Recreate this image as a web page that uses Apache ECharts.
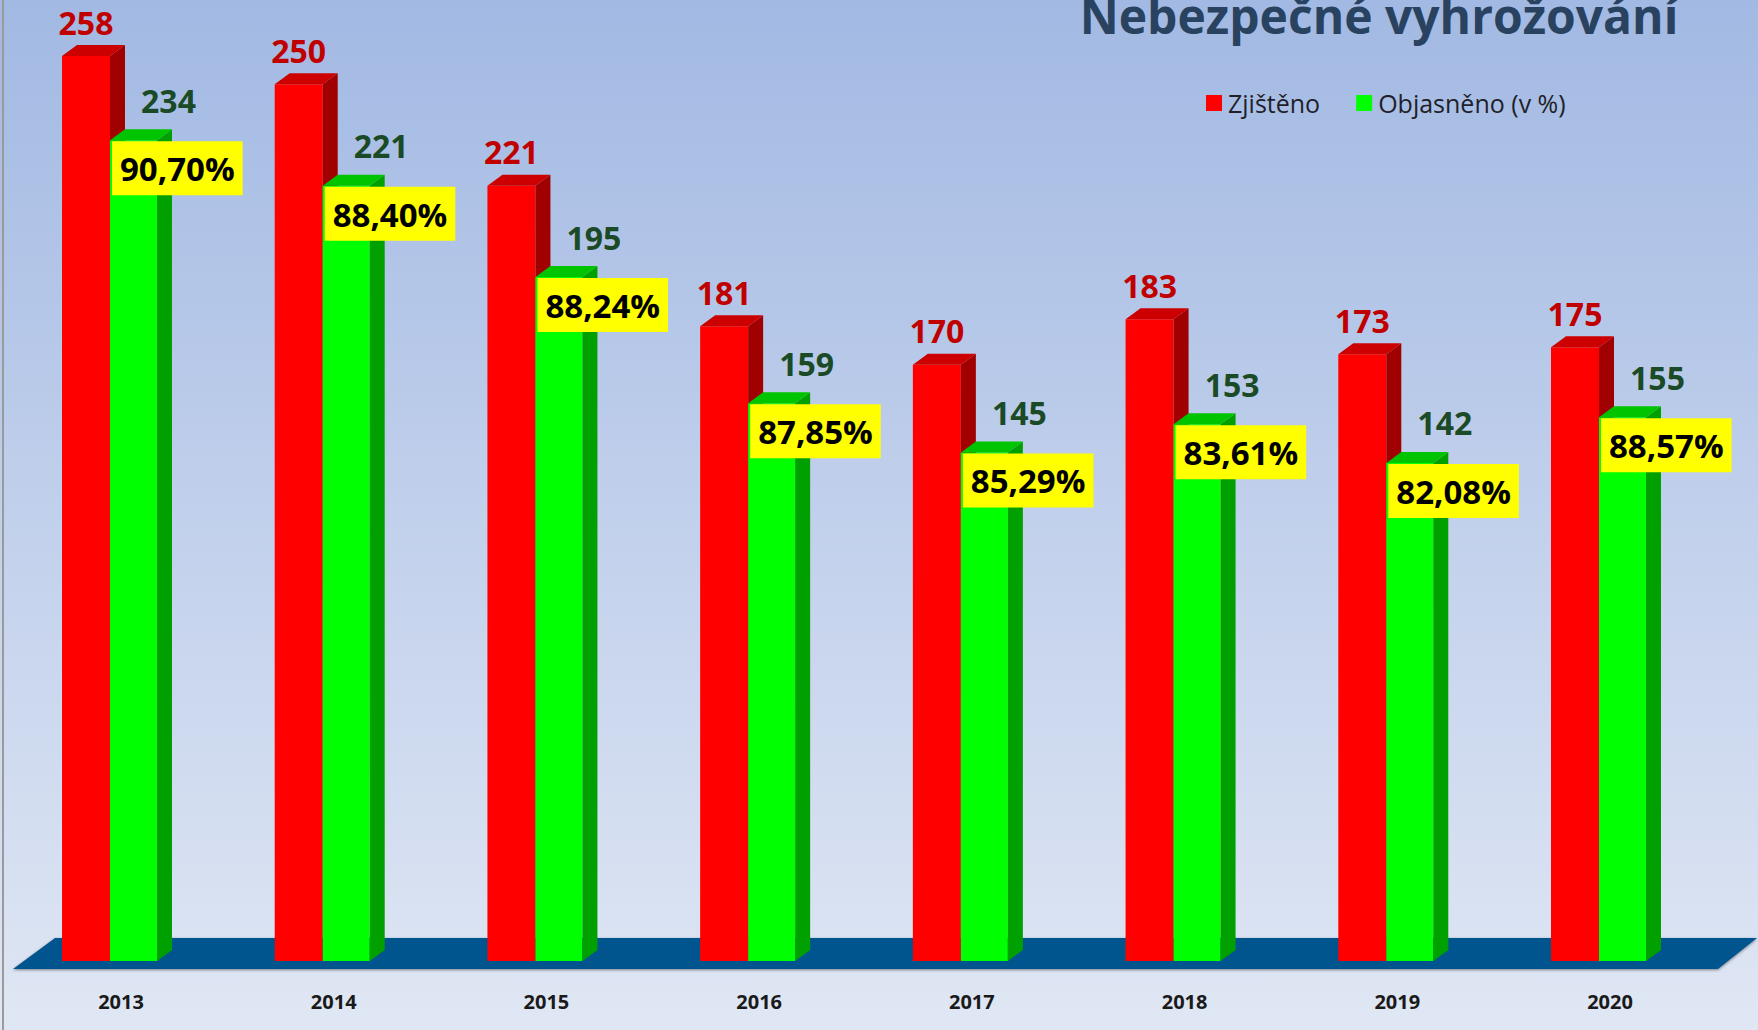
<!DOCTYPE html>
<html lang="cs">
<head>
    <title>Nebezpečné vyhrožování</title>
    <meta charset="utf-8" />
    <script src="https://cdn.jsdelivr.net/npm/echarts@6/dist/echarts.min.js"></script>
    <style>
        html, body {
            margin: 0;
            padding: 0;
        }

        #main {
            width: 1758px;
            height: 1030px;
        }
    </style>
</head>
<body>
<div id="main"></div>
<script type="text/javascript">
    // hodnoty
    let years = ['2013', '2014', '2015', '2016', '2017', '2018', '2019', '2020']
    let zjisteno = [258, 250, 221, 181, 170, 183, 173, 175]
    let objasneno = [234, 221, 195, 159, 145, 153, 142, 155]
    let objasnenoPct = [90.70, 88.40, 88.24, 87.85, 85.29, 83.61, 82.08, 88.57]

    let fontMain = '"Open Sans", "Noto Sans", sans-serif'
    let barW = 48
    let depthX = 15
    let depthY = 11

    let redFront = '#ff0000', redTop = '#cc0000', redSide = '#a00000'
    let greenFront = '#00ff00', greenTop = '#00c400', greenSide = '#00a000'

    function bar3d(x0, x1, top, base, front, topc, side) {
        return [
            {type: 'rect', shape: {x: x0, y: top, width: x1 - x0, height: base - top}, style: {fill: front}},
            {type: 'polygon', shape: {points: [[x1, top], [x1 + depthX, top - depthY], [x1 + depthX, base - depthY], [x1, base]]}, style: {fill: side}},
            {type: 'polygon', shape: {points: [[x0, top], [x0 + depthX, top - depthY], [x1 + depthX, top - depthY], [x1, top]]}, style: {fill: topc}}
        ]
    }

    function renderRed(params, api) {
        let p = api.coord([api.value(0), api.value(1)])
        let b = api.coord([api.value(0), 0])
        let x0 = p[0] - barW, x1 = p[0]
        let kids = bar3d(x0, x1, p[1], b[1], redFront, redTop, redSide)
        kids.push({
            type: 'text',
            style: {
                text: String(api.value(1)), x: (x0 + x1) / 2, y: p[1] - 34,
                align: 'center', verticalAlign: 'middle',
                fill: '#c00000', font: 'bold 32px ' + fontMain
            }
        })
        return {type: 'group', children: kids}
    }

    function renderGreen(params, api) {
        let p = api.coord([api.value(0), api.value(1)])
        let b = api.coord([api.value(0), 0])
        let x0 = p[0], x1 = p[0] + barW - 1
        let kids = bar3d(x0, x1, p[1], b[1], greenFront, greenTop, greenSide)
        kids.push({
            type: 'text',
            style: {
                text: String(api.value(1)), x: (x0 + x1) / 2 + 35, y: p[1] - 40,
                align: 'center', verticalAlign: 'middle',
                fill: '#1b4a26', font: 'bold 32px ' + fontMain
            }
        })
        kids.push({
            type: 'text',
            style: {
                text: api.value(2).toFixed(2).replace('.', ',') + '%', x: x0 + 2, y: p[1] + 1,
                align: 'left', verticalAlign: 'top',
                fill: '#000000', font: 'bold 33px ' + fontMain,
                backgroundColor: '#ffff00', padding: [11, 8, 10, 8], lineHeight: 33
            }
        })
        return {type: 'group', children: kids}
    }

    function renderFloor(params, api) {
        let a = api.coord([0, 0])
        let z = api.coord([years.length - 1, 0])
        return {
            type: 'polygon',
            shape: {points: [[a[0] - 97, a[1] + 8], [a[0] - 55, a[1] - 23], [z[0] + 158, z[1] - 23], [z[0] + 119, z[1] + 8]]},
            style: {fill: '#02558f', shadowBlur: 3, shadowColor: 'rgba(0,0,0,0.45)', shadowOffsetY: 1}
        }
    }

    let myChart = echarts.init(document.getElementById('main'), null, {renderer: 'svg'})

    let option = {
        animation: false,
        backgroundColor: {
            type: 'linear', x: 0, y: 0, x2: 0, y2: 1,
            colorStops: [{offset: 0, color: '#a2b9e3'}, {offset: 1, color: '#e0e7f4'}]
        },
        title: {
            text: 'Nebezpečné vyhrožování',
            left: 1379,
            top: -9,
            padding: 0,
            textAlign: 'center',
            textStyle: {fontFamily: fontMain, fontSize: 48, fontWeight: 'bold', color: '#28425f'}
        },
        legend: {
            data: ['Zjištěno', 'Objasněno (v %)'],
            left: 1206,
            top: 90,
            padding: 0,
            icon: 'rect',
            itemWidth: 16,
            itemHeight: 16,
            itemGap: 36,
            textStyle: {fontFamily: fontMain, fontSize: 25, color: '#1f1f2a', lineHeight: 26, padding: [0, 0, 0, 1]}
        },
        grid: {left: 110, right: 159, top: 14, bottom: 69},
        xAxis: {
            type: 'category',
            data: years,
            boundaryGap: false,
            axisLine: {show: false},
            axisTick: {show: false},
            splitLine: {show: false},
            axisLabel: {
                margin: 30,
                fontFamily: fontMain, fontSize: 20, fontWeight: 'bold', color: '#1a1a1a',
                lineHeight: 21, padding: [0, 0, 0, 22]
            }
        },
        yAxis: {type: 'value', min: 0, max: 270, show: false},
        graphic: [
            {type: 'rect', left: 2, top: 0, shape: {width: 2, height: 1030}, style: {fill: '#9a9a9a'}}
        ],
        series: [
            {
                name: 'floor', type: 'custom', z: 1, silent: true,
                renderItem: renderFloor, data: [[0, 0]]
            },
            {
                name: 'Zjištěno', type: 'custom', z: 2,
                itemStyle: {color: redFront},
                renderItem: renderRed,
                data: zjisteno.map(function (v, i) { return [i, v] })
            },
            {
                name: 'Objasněno (v %)', type: 'custom', z: 2,
                itemStyle: {color: greenFront},
                renderItem: renderGreen,
                data: objasneno.map(function (v, i) { return [i, v, objasnenoPct[i]] })
            }
        ]
    }

    myChart.setOption(option)
</script>
</body>
</html>
